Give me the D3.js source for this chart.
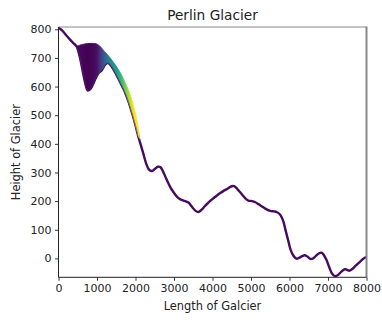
<!DOCTYPE html>
<html>
<head>
<meta charset="utf-8">
<script src="https://cdn.jsdelivr.net/npm/d3@7"></script>
<style>
  html, body { margin: 0; padding: 0; background: #fff; }
  svg { display: block; }
  text { font-family: "DejaVu Sans", sans-serif; fill: #222; }
</style>
</head>
<body>
<svg id="chart" width="382" height="320"></svg>
<script>
// Bedrock profile along the flowline (m along valley, m elevation)
const bedX = [0, 100, 200, 300, 400, 470, 550, 620, 690, 760, 830, 910, 980, 1050, 1126, 1200, 1254, 1310, 1380, 1427, 1490, 1557, 1620, 1687, 1750, 1816, 1900, 1990, 2060, 2120,
  2205, 2280, 2350, 2420, 2500, 2580, 2650, 2720, 2800, 2900, 2984, 3080, 3157, 3250, 3373, 3480, 3560, 3632, 3700, 3800, 3900, 3979,
  4100, 4200, 4280, 4400, 4500, 4560, 4640, 4713, 4800, 4880, 4929, 5030, 5103, 5200, 5300, 5405, 5500, 5600, 5665, 5740, 5800, 5850,
  5900, 5967, 6030, 6100, 6180, 6260, 6330, 6400, 6470, 6540, 6600, 6680, 6760, 6832, 6890, 6962, 7030, 7100, 7178, 7260, 7340, 7437,
  7500, 7550, 7620, 7700, 7800, 7900, 8000];
const bedY = [806, 795, 779, 764, 750, 740, 705, 660, 614, 586, 592, 612, 633, 648, 657, 674, 682, 681, 670, 660, 645, 627, 610, 592, 572, 548, 512, 470, 432, 404,
  365, 330, 310, 305, 312, 320, 318, 302, 278, 250, 232, 215, 207, 202, 195, 178, 166, 162, 168, 182, 196, 205,
  218, 228, 235, 244, 252, 252, 243, 232, 218, 206, 202, 200, 197, 189, 180, 171, 166, 164, 162, 155, 143, 125,
  97, 62, 30, 10, -1, 3, 8, 11, 6, -2, -1, 8, 17, 20, 12, -6, -30, -52, -62, -58, -47, -38,
  -40, -43, -38, -28, -16, -3, 6];

// Ice surface over the glaciated reach, with flow speed (normalised) at each point
const iceX = [470, 560, 650, 750, 850, 950, 1005, 1070, 1126, 1200, 1297, 1400, 1515, 1645, 1730, 1816, 1900, 1990, 2040, 2080, 2110];
const iceTop = [740, 745, 748, 750, 751, 750, 748, 742, 734, 722, 708, 690, 668, 639, 614, 588, 555, 512, 482, 448, 418];
const iceSpeed = [0.02, 0.02, 0.01, 0.0, 0.01, 0.03, 0.05, 0.13, 0.2, 0.3, 0.42, 0.5, 0.57, 0.68, 0.78, 0.87, 0.94, 1.0, 1.0, 0.97, 0.88];

// Axis ticks and labels
const xTicks = [0, 1000, 2000, 3000, 4000, 5000, 6000, 7000, 8000];
const yTicks = [0, 100, 200, 300, 400, 500, 600, 700, 800];
const xLimits = [0, 8000];
const yLimits = [-66, 808];
const titleText = "Perlin Glacier";
const xLabelText = "Length of Galcier";
const yLabelText = "Height of Glacier";

const svg = d3.select("#chart");
const plot = { left: 58.5, right: 366.5, top: 27, bottom: 277.3 };

const x = d3.scaleLinear().domain(xLimits).range([plot.left, plot.right]);
const y = d3.scaleLinear().domain(yLimits).range([plot.bottom, plot.top]);

const defs = svg.append("defs");
defs.append("clipPath").attr("id", "plotClip")
  .append("rect")
  .attr("x", plot.left).attr("y", plot.top)
  .attr("width", plot.right - plot.left).attr("height", plot.bottom - plot.top);

// Horizontal colour ramp for the ice body, driven by flow speed
const speedScale = d3.scaleLinear().domain([0, 1]).range([0, 1]);
const grad = defs.append("linearGradient").attr("id", "iceGrad")
  .attr("gradientUnits", "userSpaceOnUse")
  .attr("x1", x(iceX[0])).attr("x2", x(iceX[iceX.length - 1]))
  .attr("y1", 0).attr("y2", 0);
const span = iceX[iceX.length - 1] - iceX[0];
iceX.forEach((v, i) => {
  grad.append("stop")
    .attr("offset", (v - iceX[0]) / span)
    .attr("stop-color", d3.interpolateViridis(speedScale(iceSpeed[i])));
});

const g = svg.append("g").attr("clip-path", "url(#plotClip)");

const lineGen = d3.line()
  .x(d => x(d[0])).y(d => y(d[1]))
  .curve(d3.curveCatmullRom.alpha(0.5));

const bedPts = bedX.map((v, i) => [v, bedY[i]]);
const icePts = iceX.map((v, i) => [v, iceTop[i]]);
const iceBase = bedPts.filter(p => p[0] >= iceX[0] && p[0] <= iceX[iceX.length - 1]).reverse();
const bedColour = d3.interpolateViridis(0.03);

// Bedrock line
g.append("path")
  .datum(bedPts)
  .attr("d", lineGen)
  .attr("fill", "none")
  .attr("stroke", bedColour)
  .attr("stroke-width", 2.4)
  .attr("stroke-linejoin", "round")
  .attr("stroke-linecap", "round");

// Ice body: surface forward, bed back along the base
const icePath = lineGen(icePts) + lineGen(iceBase).replace(/^M/, "L") + "Z";
g.append("path")
  .attr("d", icePath)
  .attr("fill", "url(#iceGrad)")
  .attr("stroke", "url(#iceGrad)")
  .attr("stroke-width", 0.8);

// Thin dark edge along the ice base
g.append("path")
  .datum(iceBase)
  .attr("d", lineGen)
  .attr("fill", "none")
  .attr("stroke", d3.interpolateViridis(0.12))
  .attr("stroke-opacity", 0.7)
  .attr("stroke-width", 0.8);

// Axes
const xAxis = d3.axisBottom(x).tickValues(xTicks).tickFormat(d3.format("d")).tickSize(3.5).tickPadding(3);
const yAxis = d3.axisLeft(y).tickValues(yTicks).tickFormat(d3.format("d")).tickSize(3.5).tickPadding(3.5);

const gx = svg.append("g").attr("transform", `translate(0,${plot.bottom})`).call(xAxis);
const gy = svg.append("g").attr("transform", `translate(${plot.left},0)`).call(yAxis);
[gx, gy].forEach(a => {
  a.select(".domain").remove();
  a.selectAll(".tick line").attr("stroke", "#222").attr("stroke-width", 0.9);
  a.selectAll(".tick text").attr("font-size", 11).attr("font-family", "DejaVu Sans").attr("fill", "#222");
});

// Frame
svg.append("line").attr("x1", plot.left).attr("x2", plot.right).attr("y1", plot.top).attr("y2", plot.top)
  .attr("stroke", "#888").attr("stroke-width", 1);
svg.append("line").attr("x1", plot.right).attr("x2", plot.right).attr("y1", plot.top - 0.5).attr("y2", plot.bottom)
  .attr("stroke", "#888").attr("stroke-width", 2);
svg.append("line").attr("x1", plot.left).attr("x2", plot.left).attr("y1", plot.top).attr("y2", plot.bottom)
  .attr("stroke", "#222").attr("stroke-width", 1);
svg.append("line").attr("x1", plot.left).attr("x2", plot.right).attr("y1", plot.bottom).attr("y2", plot.bottom)
  .attr("stroke", "#222").attr("stroke-width", 1);

// Titles
svg.append("text").attr("x", (plot.left + plot.right) / 2).attr("y", 20)
  .attr("text-anchor", "middle").attr("font-size", 13.7).text(titleText);
svg.append("text").attr("x", (plot.left + plot.right) / 2).attr("y", 309.5)
  .attr("text-anchor", "middle").attr("font-size", 11.4).text(xLabelText);
svg.append("text").attr("transform", `translate(19.5,${(plot.top + plot.bottom) / 2}) rotate(-90)`)
  .attr("text-anchor", "middle").attr("font-size", 11.4).text(yLabelText);
</script>
</body>
</html>
